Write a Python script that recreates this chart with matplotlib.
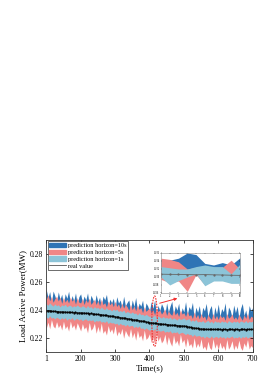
import numpy as np
import matplotlib
matplotlib.use("Agg")
import matplotlib.pyplot as plt
from matplotlib.patches import Ellipse
from matplotlib.lines import Line2D

plt.rcParams['font.family'] = ['Liberation Serif', 'DejaVu Serif']

# -------------------------------
# Data (main plot, every 5 s)
# -------------------------------
time_s = np.arange(100, 705, 5)

real_value = [
    0.2395, 0.2393, 0.2396, 0.2392, 0.2390, 0.2391, 0.2388, 0.2389, 0.2386, 0.2387,
    0.2385, 0.2386, 0.2383, 0.2384, 0.2382, 0.2383, 0.2380, 0.2382, 0.2379, 0.2380,
    0.2380, 0.2378, 0.2379, 0.2376, 0.2377, 0.2374, 0.2375, 0.2372, 0.2371, 0.2369,
    0.2368, 0.2366, 0.2367, 0.2364, 0.2362, 0.2361, 0.2359, 0.2357, 0.2356, 0.2354,
    0.2352, 0.2350, 0.2349, 0.2346, 0.2344, 0.2343, 0.2340, 0.2338, 0.2337, 0.2334,
    0.2332, 0.2330, 0.2329, 0.2326, 0.2324, 0.2322, 0.2320, 0.2318, 0.2315, 0.2313,
    0.2310, 0.2309, 0.2307, 0.2306, 0.2304, 0.2303, 0.2301, 0.2300, 0.2298, 0.2297,
    0.2296, 0.2295, 0.2293, 0.2292, 0.2291, 0.2290, 0.2289, 0.2288, 0.2287, 0.2286,
    0.2286, 0.2284, 0.2281, 0.2279, 0.2276, 0.2274, 0.2272, 0.2270, 0.2268, 0.2266,
    0.2265, 0.2264, 0.2263, 0.2262, 0.2262, 0.2261, 0.2262, 0.2261, 0.2262, 0.2261,
    0.2262, 0.2261, 0.2260, 0.2262, 0.2261, 0.2260, 0.2261, 0.2262, 0.2261, 0.2260,
    0.2261, 0.2262, 0.2260, 0.2261, 0.2262, 0.2261, 0.2260, 0.2261, 0.2262, 0.2261,
    0.2262]

# band half-widths above / below the real value, in 1e-4 MW
up_10s = [
    150, 95, 135, 60, 145, 110, 70, 140, 90, 125,
    55, 130, 100, 150, 65, 120, 85, 140, 60, 115,
    135, 75, 120, 95, 145, 60, 130, 105, 70, 140,
    90, 125, 55, 135, 110, 150, 65, 120, 95, 130,
    60, 145, 100, 125, 75, 155, 90, 115, 135, 65,
    140, 95, 160, 70, 125, 105, 150, 60, 135, 115,
    80, 150, 105, 165, 65, 130, 95, 145, 120, 70,
    155, 90, 135, 170, 75, 140, 110, 160, 60, 130,
    100, 175, 85, 145, 125, 180, 70, 150, 115, 165,
    75, 155, 130, 185, 90, 145, 170, 65, 160, 110,
    180, 95, 150, 125, 190, 70, 160, 135, 85, 175,
    120, 165, 80, 150, 185, 100, 140, 70, 170, 130,
    155]
low_10s = [
    60, 45, 70, 50, 65, 40, 75, 55, 48, 68,
    52, 72, 45, 63, 58, 42, 70, 50, 66, 47,
    65, 48, 73, 55, 44, 68, 52, 60, 46, 71,
    50, 64, 42, 70, 57, 47, 66, 53, 62, 45,
    68, 50, 60, 44, 72, 55, 48, 65, 52, 70,
    46, 63, 54, 71, 45, 60, 67, 50, 58, 43,
    62, 48, 70, 55, 64, 45, 58, 73, 50, 66,
    54, 68, 47, 61, 52, 72, 45, 63, 57, 49,
    70, 55, 64, 48, 75, 58, 66, 50, 72, 60,
    52, 73, 60, 67, 49, 71, 56, 64, 47, 69,
    58, 74, 51, 66, 62, 48, 70, 57, 75, 53,
    65, 50, 72, 59, 68, 54, 61, 76, 52, 67,
    63]
up_5s = [
    80, 115, 70, 105, 65, 90, 110, 75, 105, 60,
    105, 70, 95, 65, 110, 80, 100, 60, 110, 75,
    70, 105, 60, 100, 75, 110, 65, 85, 105, 70,
    100, 65, 110, 75, 90, 60, 105, 80, 100, 70,
    110, 75, 95, 65, 105, 70, 100, 85, 60, 105,
    70, 100, 65, 110, 80, 95, 60, 105, 75, 90,
    105, 70, 95, 60, 110, 85, 100, 70, 90, 110,
    65, 100, 80, 70, 110, 75, 95, 65, 115, 85,
    95, 70, 110, 80, 90, 65, 115, 75, 100, 70,
    110, 80, 95, 65, 105, 85, 70, 115, 75, 100,
    70, 105, 85, 95, 65, 115, 80, 90, 110, 75,
    90, 70, 110, 85, 65, 105, 80, 115, 70, 95,
    85]
low_5s = [
    125, 80, 130, 60, 105, 120, 70, 115, 90, 130,
    65, 120, 95, 135, 60, 110, 85, 125, 70, 100,
    130, 75, 115, 95, 140, 60, 120, 100, 65, 135,
    85, 125, 60, 130, 105, 140, 70, 115, 90, 125,
    60, 135, 100, 120, 75, 145, 85, 110, 130, 65,
    130, 90, 145, 70, 120, 100, 140, 60, 125, 110,
    80, 140, 100, 150, 65, 125, 90, 135, 115, 70,
    145, 85, 125, 150, 70, 130, 105, 145, 60, 120,
    95, 150, 80, 135, 115, 145, 70, 140, 105, 130,
    70, 140, 120, 150, 85, 130, 145, 65, 135, 100,
    145, 90, 135, 115, 150, 70, 140, 120, 80, 145,
    110, 140, 75, 130, 150, 95, 125, 70, 140, 115,
    130]
up_1s = [
    50, 40, 55, 45, 38, 52, 42, 48, 36, 50,
    44, 55, 40, 47, 52, 38, 50, 42, 56, 45,
    40, 52, 46, 38, 55, 43, 49, 37, 53, 44,
    50, 39, 54, 45, 41, 56, 43, 48, 38, 52,
    46, 55, 40, 50, 44, 57, 39, 51, 47, 42,
    54, 45, 49, 38, 56, 44, 50, 41, 55, 47,
    43, 52, 46, 58, 40, 53, 48, 42, 56, 45,
    51, 44, 57, 41, 53, 47, 39, 55, 46, 50,
    58, 45, 52, 60, 43, 55, 48, 62, 46, 53,
    50, 60, 47, 56, 64, 49, 58, 45, 61, 52,
    55, 48, 62, 51, 58, 46, 63, 54, 49, 60,
    52, 59, 47, 61, 55, 50, 64, 48, 57, 53,
    58]
low_1s = [
    45, 52, 38, 50, 43, 55, 40, 48, 53, 42,
    50, 41, 56, 44, 49, 37, 54, 46, 40, 52,
    43, 55, 47, 39, 53, 45, 50, 42, 57, 44,
    48, 40, 54, 46, 51, 38, 56, 43, 49, 45,
    52, 44, 58, 41, 50, 47, 55, 40, 53, 46,
    42, 56, 45, 51, 39, 54, 48, 57, 43, 50,
    55, 46, 52, 40, 58, 45, 51, 49, 42, 56,
    47, 53, 41, 57, 48, 52, 44, 59, 50, 45,
    53, 60, 47, 55, 50, 62, 46, 57, 52, 48,
    58, 51, 63, 49, 56, 60, 47, 61, 54, 50,
    62, 48, 57, 53, 64, 50, 59, 55, 47, 61,
    54, 60, 49, 63, 52, 58, 47, 62, 55, 51,
    57]

xtick_pos = [100, 200, 300, 400, 500, 600, 700]
xtick_labels = ['1', '200', '300', '400', '500', '600', '700']

# -------------------------------
# Data (zoomed inset, 10 s)
# -------------------------------
inset_x = [1, 2, 3, 4, 5, 6, 7, 8, 9, 10]
inset_real = [0.23070, 0.23066, 0.23064, 0.23060, 0.23056, 0.23060, 0.23054, 0.23050, 0.23044, 0.23040]
inset_up10 = [0.23440, 0.23420, 0.23470, 0.23600, 0.23560, 0.23340, 0.23300, 0.23360, 0.23300, 0.23480]
inset_lo10 = [0.23040, 0.22900, 0.22960, 0.23040, 0.23100, 0.22900, 0.22960, 0.22960, 0.22920, 0.22920]
inset_up5 = [0.23470, 0.23440, 0.23380, 0.23200, 0.23240, 0.23280, 0.23240, 0.23240, 0.23420, 0.23200]
inset_lo5 = [0.22940, 0.22860, 0.22900, 0.22640, 0.23060, 0.22800, 0.22920, 0.22920, 0.22860, 0.22880]
inset_up1 = [0.23260, 0.23230, 0.23200, 0.23200, 0.23260, 0.23300, 0.23260, 0.23260, 0.23080, 0.23320]
inset_lo1 = [0.23000, 0.22800, 0.22910, 0.23000, 0.23080, 0.22780, 0.22900, 0.22900, 0.22840, 0.22840]

c10 = '#2f74b5'
c5 = '#f08686'
c1 = '#8cc4d8'

# -------------------------------
# Main plot
# -------------------------------
fig = plt.figure(figsize=(2.77, 3.92), dpi=100)
ax = fig.add_axes([0.167, 0.102, 0.745, 0.286])

real = np.array(real_value)
ax.fill_between(time_s, real + np.array(up_10s) * 1e-4, real - np.array(low_10s) * 1e-4,
                color=c10, lw=0)
ax.fill_between(time_s, real + np.array(up_5s) * 1e-4, real - np.array(low_5s) * 1e-4,
                color=c5, lw=0)
ax.fill_between(time_s, real + np.array(up_1s) * 1e-4, real - np.array(low_1s) * 1e-4,
                color=c1, lw=0)
ax.plot(time_s, real, color='#222222', lw=0.6, marker='.', ms=1.2, mec='black', mfc='black')

ax.set_xlim(100, 700)
ax.set_ylim(0.21, 0.29)
ax.set_xticks(xtick_pos)
ax.set_xticklabels(xtick_labels)
ax.set_yticks([0.22, 0.24, 0.26, 0.28])
ax.tick_params(direction='in', top=True, right=True, labelsize=5.5, length=2, width=0.5, pad=2)
for s in ax.spines.values():
    s.set_linewidth(0.6)
    s.set_color('#333333')
ax.set_xlabel('Time(s)', fontsize=6.5, labelpad=1)
ax.set_ylabel('Load Active Power(MW)', fontsize=6.5, labelpad=2)

# zoom marker and arrow
ax.add_patch(Ellipse((415, 0.232), 16, 0.036, fill=False, ec='#f03030', ls=(0, (1.5, 1)), lw=0.8))
ax.annotate('', xy=(489, 0.2488), xytext=(422, 0.2443),
            arrowprops=dict(arrowstyle='-|>', color='#f03030', lw=0.7, mutation_scale=4))

handles = [
    plt.Rectangle((0, 0), 1, 1, color=c10),
    plt.Rectangle((0, 0), 1, 1, color=c5),
    plt.Rectangle((0, 0), 1, 1, color=c1),
    Line2D([0], [0], color='#555555', lw=0.6),
]
labels = ['prediction horizon=10s', 'prediction horizon=5s', 'prediction horizon=1s', 'real value']
leg = ax.legend(handles, labels, loc='upper left', fontsize=4.5, fancybox=False, framealpha=1,
                edgecolor='#333333', handlelength=2.7, handleheight=0.8, handletextpad=0.3,
                labelspacing=0.2, borderpad=0.25, borderaxespad=0.2)
leg.get_frame().set_linewidth(0.5)

# -------------------------------
# Inset
# -------------------------------
ins = fig.add_axes([0.581, 0.2526, 0.285, 0.102])
ins.fill_between(inset_x, inset_up10, inset_lo10, color=c10, lw=0)
ins.fill_between(inset_x, inset_up5, inset_lo5, color=c5, lw=0)
ins.fill_between(inset_x, inset_up1, inset_lo1, color=c1, lw=0)
ins.plot(inset_x, inset_real, color='#666666', lw=0.6, marker='.', ms=1.2)
ins.set_xlim(1, 10)
ins.set_ylim(0.226, 0.236)
ins.set_xticks(inset_x)
ins.set_yticks([0.226, 0.228, 0.230, 0.232, 0.234, 0.236])
ins.tick_params(direction='in', top=True, right=True, labelsize=2, length=1, width=0.3, pad=1)
for s in ins.spines.values():
    s.set_linewidth(0.4)
    s.set_color('#888888')

plt.savefig("out.png", dpi=100)
